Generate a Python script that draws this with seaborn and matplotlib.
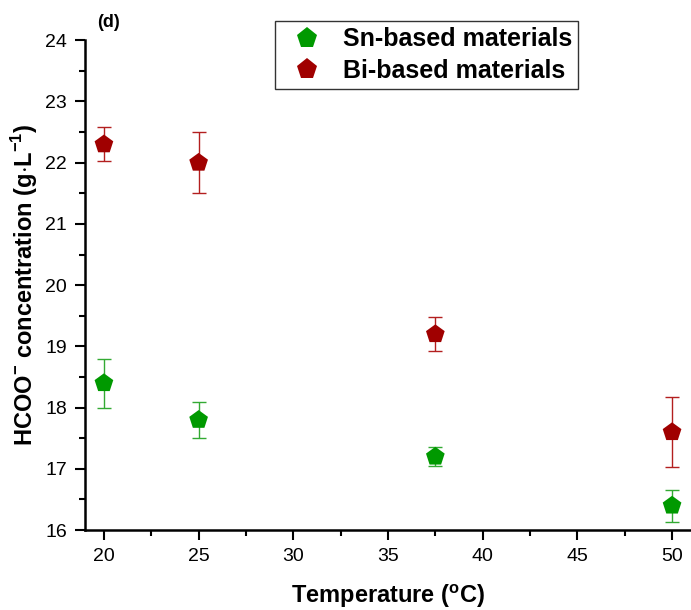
import numpy as np
import pandas as pd
import matplotlib
matplotlib.use("Agg")
import matplotlib.pyplot as plt
import seaborn as sns
from matplotlib.ticker import MultipleLocator

temperature = [20, 25, 37.5, 50]
sn_conc = [18.4, 17.8, 17.2, 16.4]
sn_err = [0.40, 0.29, 0.16, 0.26]
bi_conc = [22.3, 22.0, 19.2, 17.6]
bi_err = [0.28, 0.50, 0.28, 0.57]
series = ["Sn-based materials", "Bi-based materials"]
colors = {"Sn-based materials": "#009900", "Bi-based materials": "#a00000"}
err_colors = {"Sn-based materials": "#33aa33", "Bi-based materials": "#b31f1f"}

df = pd.DataFrame({
    "T": temperature * 2,
    "conc": sn_conc + bi_conc,
    "err": sn_err + bi_err,
    "group": [series[0]] * 4 + [series[1]] * 4,
})

sns.set_style("ticks")
plt.rcParams["font.family"] = ["Liberation Sans", "DejaVu Sans"]
plt.rcParams["mathtext.fontset"] = "custom"
plt.rcParams["mathtext.rm"] = "Liberation Sans"
plt.rcParams["mathtext.bf"] = "Liberation Sans:bold"
plt.rcParams["text.color"] = "black"
plt.rcParams["axes.labelcolor"] = "black"
plt.rcParams["xtick.color"] = "black"
plt.rcParams["ytick.color"] = "black"
plt.rcParams["axes.edgecolor"] = "black"

fig = plt.figure(figsize=(6.91, 6.10), dpi=100)
ax = fig.add_axes([0.123, 0.131, 0.877, 0.803])

for g in series:
    sub = df[df["group"] == g]
    ax.errorbar(sub["T"], sub["conc"], yerr=sub["err"], fmt="none",
                ecolor=err_colors[g], elinewidth=1.0, capsize=5, capthick=1.0, zorder=2)

sns.scatterplot(data=df, x="T", y="conc", hue="group", palette=colors,
                marker="p", s=200, edgecolor="none", ax=ax, zorder=3, legend=True)

ax.set_xlim(19, 51)
ax.set_ylim(16, 24)
ax.xaxis.set_major_locator(MultipleLocator(5))
ax.xaxis.set_minor_locator(MultipleLocator(2.5))
ax.yaxis.set_major_locator(MultipleLocator(1))
ax.yaxis.set_minor_locator(MultipleLocator(0.5))
ax.tick_params(axis="both", which="major", direction="out", length=7, width=1.5,
               labelsize=14, pad=6)
ax.tick_params(axis="both", which="minor", direction="out", length=4, width=1.5)
for side in ["top", "right"]:
    ax.spines[side].set_visible(False)
for side in ["left", "bottom"]:
    ax.spines[side].set_linewidth(1.8)

ax.set_xlabel(r"Temperature ($^{\mathbf{o}}$C)", fontsize=17, fontweight="bold", labelpad=12)
ax.set_ylabel(r"HCOO$^{\mathbf{-}}$ concentration (g$\mathbf{\cdot}$L$^{\mathbf{-1}}$)",
              fontsize=17, fontweight="bold", labelpad=4)

handles, labels = ax.get_legend_handles_labels()
leg = ax.legend(handles, labels, loc="upper left", bbox_to_anchor=(0.3135, 1.039),
                borderaxespad=0, frameon=True, fancybox=False, edgecolor="black",
                markerscale=1.12, prop={"weight": "bold", "size": 18}, borderpad=0.25,
                handletextpad=0.36, labelspacing=0.3, handlelength=2.1)
leg.get_frame().set_linewidth(1.0)

fig.text(0.140, 0.963, "(d)", fontsize=13, fontweight="bold", ha="left", va="center")

fig.savefig("out.png", dpi=100)
